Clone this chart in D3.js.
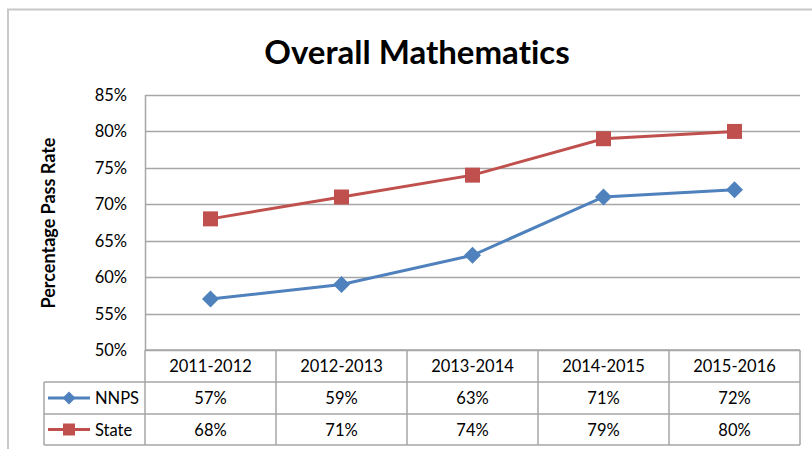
<!DOCTYPE html>
<html>
<head>
<meta charset="utf-8">
<script src="https://cdn.jsdelivr.net/npm/d3@7"></script>
<style>
  body { margin: 0; background: #fff; }
  text { font-family: Lato, "Open Sans", sans-serif; fill: #000; font-variant-ligatures: none; }
</style>
</head>
<body>
<div id="chart"></div>
<script>
let w = 812;
let h = 449;

// data
const years = ["2011-2012", "2012-2013", "2013-2014", "2014-2015", "2015-2016"];
const nnps = [57, 59, 63, 71, 72];
const state = [68, 71, 74, 79, 80];
const yTicks = [50, 55, 60, 65, 70, 75, 80, 85];
const seriesNames = ["NNPS", "State"];
const seriesColors = ["#4F81BD", "#C0504D"];

// marker shapes: r = half size
const diamond = r => `M0,${-r}L${r},0L0,${r}L${-r},0Z`;
const square = r => `M${-r},${-r}H${r}V${r}H${-r}Z`;

const series = [
  { name: seriesNames[0], values: nnps, color: seriesColors[0], shape: diamond, r: 8.5, lr: 6.5 },
  { name: seriesNames[1], values: state, color: seriesColors[1], shape: square, r: 7.5, lr: 6 }
];

let svg = d3.select("#chart")
  .append("svg")
  .attr("width", w)
  .attr("height", h);

// outer chart border (only top/left visible in crop)
svg.append("path")
  .attr("d", "M8,449 V9.5 H812")
  .attr("fill", "none")
  .attr("stroke", "#c8c8c8")
  .attr("stroke-width", 2);

// title
svg.append("text")
  .attr("x", 417).attr("y", 64)
  .attr("text-anchor", "middle")
  .style("font-size", "33px")
  .style("font-weight", "bold")
  .text("Overall Mathematics");

const pLeft = 145, pRight = 800, pTop = 95, pBottom = 350;

const x = d3.scaleBand().domain(years).range([pLeft, pRight]);
const y = d3.scaleLinear().domain([50, 85]).range([pBottom, pTop]);

// gridlines
svg.append("g")
  .selectAll("line")
  .data(yTicks)
  .enter()
  .append("line")
  .attr("x1", pLeft).attr("x2", pRight)
  .attr("y1", d => Math.round(y(d)) + 0.5)
  .attr("y2", d => Math.round(y(d)) + 0.5)
  .attr("stroke", "#a6a6a6")
  .attr("stroke-width", 1.5);

// left axis line
svg.append("line")
  .attr("x1", pLeft + 0.5).attr("x2", pLeft + 0.5)
  .attr("y1", pTop).attr("y2", pBottom)
  .attr("stroke", "#a6a6a6")
  .attr("stroke-width", 1.5);

// y labels
svg.append("g")
  .selectAll("text")
  .data(yTicks)
  .enter()
  .append("text")
  .attr("x", 127)
  .attr("y", d => y(d) + 6)
  .attr("text-anchor", "end")
  .style("font-size", "16.5px")
  .text(d => d + "%");

// y title
svg.append("text")
  .attr("transform", "translate(55,223) rotate(-90)")
  .attr("text-anchor", "middle")
  .style("font-size", "18px")
  .style("font-weight", "bold")
  .text("Percentage Pass Rate");

// lines + markers
const line = d3.line()
  .x((d, i) => x(years[i]) + x.bandwidth() / 2)
  .y(d => y(d));

series.forEach(s => {
  svg.append("path")
    .datum(s.values)
    .attr("d", line)
    .attr("fill", "none")
    .attr("stroke", s.color)
    .attr("stroke-width", 3);

  svg.append("g")
    .selectAll("path")
    .data(s.values)
    .enter()
    .append("path")
    .attr("transform", (d, i) => `translate(${x(years[i]) + x.bandwidth() / 2},${y(d)})`)
    .attr("d", s.shape(s.r))
    .attr("fill", s.color);
});

// data table
const rowH = [pBottom, 382, 414, 445];
const tableLeft = 44;
const tbl = svg.append("g").attr("stroke", "#a6a6a6").attr("stroke-width", 1.5).attr("fill", "none");

// horizontal lines
tbl.append("line").attr("x1", pLeft).attr("x2", pRight).attr("y1", rowH[0]).attr("y2", rowH[0]);
[rowH[1], rowH[2], rowH[3]].forEach(yy => {
  tbl.append("line").attr("x1", tableLeft).attr("x2", pRight).attr("y1", yy).attr("y2", yy);
});
// vertical lines
tbl.append("line").attr("x1", tableLeft).attr("x2", tableLeft).attr("y1", rowH[1]).attr("y2", rowH[3]);
years.forEach(c => {
  tbl.append("line").attr("x1", x(c)).attr("x2", x(c)).attr("y1", rowH[0]).attr("y2", rowH[3]);
});
tbl.append("line").attr("x1", pRight).attr("x2", pRight).attr("y1", rowH[0]).attr("y2", rowH[3]);

// header text
svg.append("g")
  .selectAll("text")
  .data(years)
  .enter()
  .append("text")
  .attr("x", d => x(d) + x.bandwidth() / 2)
  .attr("y", 372)
  .attr("text-anchor", "middle")
  .style("font-size", "16.5px")
  .text(d => d);

// series rows
series.forEach((s, r) => {
  const cy = (rowH[r + 1] + rowH[r + 2]) / 2;
  svg.append("line")
    .attr("x1", 48).attr("x2", 90)
    .attr("y1", cy).attr("y2", cy)
    .attr("stroke", s.color)
    .attr("stroke-width", 3);
  svg.append("path")
    .attr("transform", `translate(69,${cy})`)
    .attr("d", s.shape(s.lr))
    .attr("fill", s.color);
  svg.append("text")
    .attr("x", 95).attr("y", cy + 6)
    .style("font-size", "16.5px")
    .text(s.name);

  svg.append("g")
    .selectAll("text")
    .data(s.values)
    .enter()
    .append("text")
    .attr("x", (d, i) => x(years[i]) + x.bandwidth() / 2)
    .attr("y", cy + 6)
    .attr("text-anchor", "middle")
    .style("font-size", "16.5px")
    .text(d => d + "%");
});
</script>
</body>
</html>
